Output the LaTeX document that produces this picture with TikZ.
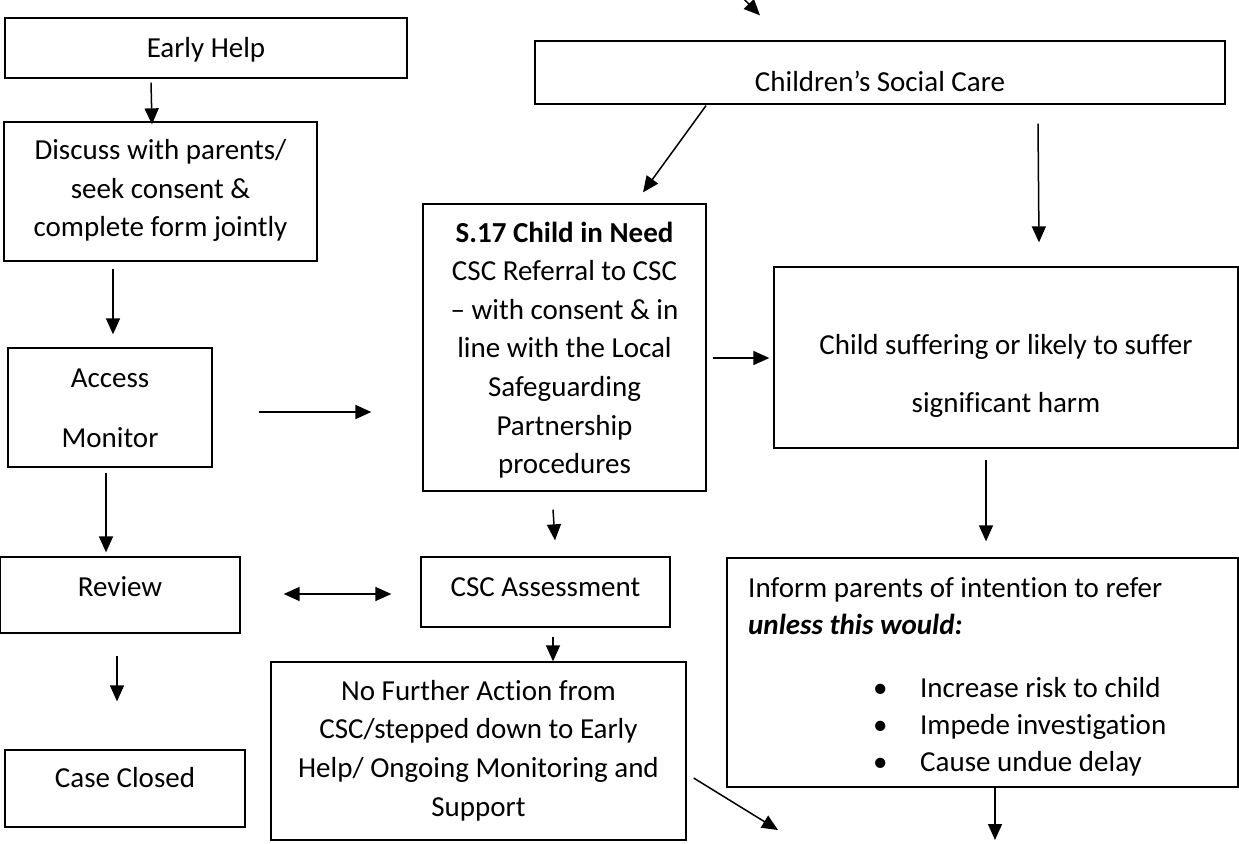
\documentclass[tikz,border=0pt]{standalone}
\usepackage{fontspec}
\setmainfont{Carlito}[Ligatures=NoCommon]
\tikzset{box/.style = {draw, line width=1.3pt, inner sep=0pt},
         txt/.style = {align=center, inner sep=0pt, font=\fontsize{29pt}{38.6pt}\selectfont},
         arr/.style = {line width=1.5pt, -{Triangle[length=16pt,width=14pt]}},
         dbl/.style = {line width=1.5pt, {Triangle[length=16pt,width=14pt]}-{Triangle[length=16pt,width=14pt]}}}
\usetikzlibrary{arrows.meta,
                 calc}

\begin{document}
\begin{tikzpicture}[x=1pt, y=-1pt]
\useasboundingbox (0,0) rectangle (1239,843);
% boxes
\node[box, minimum width=402pt, minimum height=60pt] (early) at (206,48) {};
\node[box, minimum width=690pt, minimum height=63pt] (csc) at (880,72.5) {};
\node[box, minimum width=313pt, minimum height=139pt] (discuss) at (160.5,191.5) {};
\node[box, minimum width=204pt, minimum height=119pt] (access) at (110,407.5) {};
\node[box, minimum width=283pt, minimum height=287pt] (sneed) at (564.5,347.5) {};
\node[box, minimum width=464pt, minimum height=181pt] (harm) at (1006,357.5) {};
\node[box, minimum width=240pt, minimum height=76pt] (review) at (120,595) {};
\node[box, minimum width=249pt, minimum height=70pt] (assess) at (545.5,592) {};
\node[box, minimum width=240pt, minimum height=77pt] (closed) at (125,788.5) {};
\node[box, minimum width=415pt, minimum height=178pt] (nfa) at (478.5,751) {};
\node[box, minimum width=511pt, minimum height=229pt] (inform) at (982.5,672.5) {};
% texts
\node[txt] (earlytxt) at (206,50) {Early Help};
\node[txt] (csctxt) at (880,81) {Children’s Social Care};
\node[txt] (discusstxt) at (160.5,190.5) {Discuss with parents/\\seek consent \&\\complete form jointly};
\node[txt, font=\fontsize{29pt}{60pt}\selectfont] (accesstxt) at (110,408) {Access\\Monitor};
\node[txt] (sneedtxt) at (564.5,350) {\textbf{S.17 Child in Need}\\CSC Referral to CSC\\– with consent \& in\\line with the Local\\Safeguarding\\Partnership\\procedures};
\node[txt, font=\fontsize{29pt}{58pt}\selectfont] (harmtxt) at (1006,376) {Child suffering or likely to suffer\\significant harm};
\node[txt] (reviewtxt) at (120,587) {Review};
\node[txt] (assesstxt) at (545.5,587) {CSC Assessment};
\node[txt] (closedtxt) at (125,778) {Case Closed};
\node[txt] (nfatxt) at (478.5,750.5) {No Further Action from\\CSC/stepped down to Early\\Help/ Ongoing Monitoring and\\Support};
\node[txt, align=left, anchor=north west, font=\fontsize{29pt}{37pt}\selectfont] (informtxt) at (748,577)
  {Inform parents of intention to refer\\\textbf{\textit{unless this would:}}\\[26pt]
   \hspace*{125pt}\makebox[47pt][l]{\textbullet}Increase risk to child\\
   \hspace*{125pt}\makebox[47pt][l]{\textbullet}Impede investigation\\
   \hspace*{125pt}\makebox[47pt][l]{\textbullet}Cause undue delay};
% loose ends
\coordinate (topin) at (739,-6);
\coordinate (nfaout) at (778,830);
\coordinate (informout) at (995,840);
% arrows
\draw[arr] (topin) -- ($(csc.north)+(-120,-25)$);
\draw[arr] ($(early.south)+(-55,4)$) -- ($(discuss.north)+(-8.5,3)$);
\draw[arr] ($(discuss.south)+(-47.5,7)$) -- ($(access.north)+(3,-13)$);
\draw[arr] ($(access.east)+(46,4.5)$) -- ($(sneed.west)+(-51,64.5)$);
\draw[arr] ($(csc.south)+(-174,1)$) -- ($(sneed.north)+(78.5,-11)$);
\draw[arr] ($(csc.south)+(158,19)$) -- ($(harm.north)+(33,-24)$);
\draw[arr] ($(sneed.east)+(6,10.5)$) -- ($(harm.west)+(-4,0.5)$);
\draw[arr] ($(sneed.south)+(-11.5,18)$) -- ($(assess.north)+(9.5,-16)$);
\draw[arr] ($(access.south)+(-4,5)$) -- ($(review.north)+(-14,-4)$);
\draw[dbl] ($(review.east)+(43,-1)$) -- ($(assess.west)+(-29,2)$);
\draw[arr] ($(assess.south)+(7.5,9)$) -- ($(nfa.north)+(74.5,0)$);
\draw[arr] ($(review.south)+(-3,22)$) -- ($(closed.north)+(-8,-48)$);
\draw[arr] ($(nfa.east)+(7,27)$) -- (nfaout);
\draw[arr] ($(harm.south)+(-20,11)$) -- ($(inform.north)+(3.5,-16)$);
\draw[arr] ($(inform.south)+(12.5,0)$) -- (informout);
\end{tikzpicture}
\end{document}
